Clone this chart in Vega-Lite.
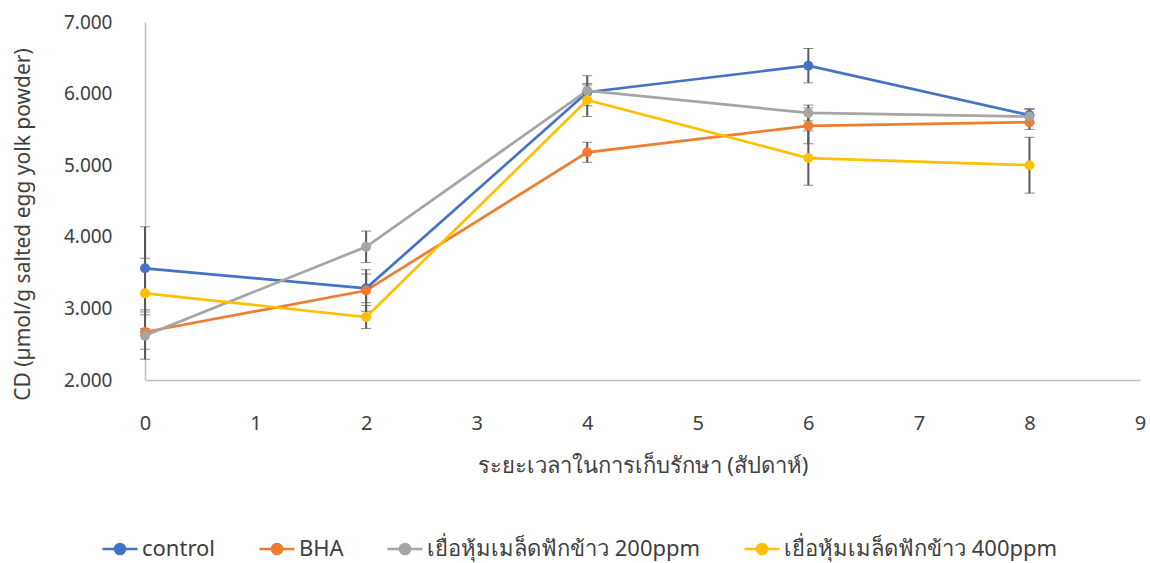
{
  "$schema": "https://vega.github.io/schema/vega-lite/v6.json",
  "width": 995,
  "height": 358,
  "autosize": "none",
  "padding": {"left": 145, "top": 22, "right": 10, "bottom": 183},
  "config": {
    "view": {"stroke": null},
    "font": "Noto Sans",
    "axis": {"labelColor": "#404040", "titleColor": "#404040", "titleFontWeight": "normal"},
    "legend": {"labelColor": "#404040"}
  },
  "data": {
    "values": [
      {"week": 0, "series": "control", "cd": 3.56, "err": 0.58},
      {"week": 2, "series": "control", "cd": 3.28, "err": 0.2},
      {"week": 4, "series": "control", "cd": 6.02, "err": 0.1},
      {"week": 6, "series": "control", "cd": 6.39, "err": 0.24},
      {"week": 8, "series": "control", "cd": 5.7, "err": 0.09},
      {"week": 0, "series": "BHA", "cd": 2.67, "err": 0.24},
      {"week": 2, "series": "BHA", "cd": 3.25, "err": 0.29},
      {"week": 4, "series": "BHA", "cd": 5.18, "err": 0.14},
      {"week": 6, "series": "BHA", "cd": 5.55, "err": 0.25},
      {"week": 8, "series": "BHA", "cd": 5.6, "err": 0.1},
      {"week": 0, "series": "เยื่อหุ้มเมล็ดฟักข้าว 200ppm", "cd": 2.62, "err": 0.33},
      {"week": 2, "series": "เยื่อหุ้มเมล็ดฟักข้าว 200ppm", "cd": 3.86, "err": 0.22},
      {"week": 4, "series": "เยื่อหุ้มเมล็ดฟักข้าว 200ppm", "cd": 6.04, "err": 0.21},
      {"week": 6, "series": "เยื่อหุ้มเมล็ดฟักข้าว 200ppm", "cd": 5.73, "err": 0.11},
      {"week": 8, "series": "เยื่อหุ้มเมล็ดฟักข้าว 200ppm", "cd": 5.68, "err": 0.1},
      {"week": 0, "series": "เยื่อหุ้มเมล็ดฟักข้าว 400ppm", "cd": 3.21, "err": 0.49},
      {"week": 2, "series": "เยื่อหุ้มเมล็ดฟักข้าว 400ppm", "cd": 2.88, "err": 0.16},
      {"week": 4, "series": "เยื่อหุ้มเมล็ดฟักข้าว 400ppm", "cd": 5.91, "err": 0.23},
      {"week": 6, "series": "เยื่อหุ้มเมล็ดฟักข้าว 400ppm", "cd": 5.1, "err": 0.38},
      {"week": 8, "series": "เยื่อหุ้มเมล็ดฟักข้าว 400ppm", "cd": 5.0, "err": 0.39}
    ]
  },
  "layer": [
    {
      "mark": {"type": "errorbar", "ticks": {"size": 10, "color": "#595959", "strokeWidth": 2}, "rule": {"color": "#595959", "strokeWidth": 2}},
      "encoding": {
        "x": {"field": "week", "type": "quantitative", "title": "ระยะเวลาในการเก็บรักษา (สัปดาห์)"},
        "y": {"field": "cd", "type": "quantitative", "title": "CD (µmol/g salted egg yolk powder)"},
        "yError": {"field": "err"}
      }
    },
    {
      "mark": {"type": "line", "strokeWidth": 2.7},
      "encoding": {
        "x": {
          "field": "week", "type": "quantitative",
          "title": "ระยะเวลาในการเก็บรักษา (สัปดาห์)",
          "scale": {"domain": [0, 9], "nice": false},
          "axis": {
            "values": [0, 1, 2, 3, 4, 5, 6, 7, 8, 9],
            "format": "d",
            "grid": false, "ticks": false, "labelFlush": false,
            "domainColor": "#BFBFBF", "domainWidth": 1.5,
            "labelPadding": 33, "labelFontSize": 20,
            "titleFontSize": 22, "titlePadding": 22
          }
        },
        "y": {
          "field": "cd", "type": "quantitative",
          "title": "CD (µmol/g salted egg yolk powder)",
          "scale": {"domain": [2, 7], "nice": false, "zero": false},
          "axis": {
            "values": [2, 3, 4, 5, 6, 7],
            "format": ".3f",
            "grid": false, "ticks": false, "labelFlush": false,
            "domainColor": "#BFBFBF", "domainWidth": 1.5,
            "labelPadding": 33, "labelFontSize": 19,
            "titleFontSize": 21, "titleAngle": 270,
            "titleAlign": "center", "titleBaseline": "middle",
            "titleX": -122, "titleY": 202
          }
        },
        "color": {
          "field": "series", "type": "nominal",
          "sort": ["control", "BHA", "เยื่อหุ้มเมล็ดฟักข้าว 200ppm", "เยื่อหุ้มเมล็ดฟักข้าว 400ppm"],
          "scale": {
            "domain": ["control", "BHA", "เยื่อหุ้มเมล็ดฟักข้าว 200ppm", "เยื่อหุ้มเมล็ดฟักข้าว 400ppm"],
            "range": ["#4472C4", "#ED7D31", "#A5A5A5", "#FFC000"]
          },
          "legend": {
            "orient": "none", "direction": "horizontal", "columns": 4,
            "legendX": -44, "legendY": 508, "title": null,
            "columnPadding": 38, "labelLimit": 0,
            "symbolType": "M-1,0L1,0M0.29,0A0.29,0.29,0,1,1,-0.29,0A0.29,0.29,0,1,1,0.29,0",
            "symbolSize": 1225, "symbolStrokeWidth": 2.5,
            "labelFontSize": 22, "labelOffset": 3
          }
        },
        "order": {"field": "week", "type": "quantitative"}
      }
    },
    {
      "mark": {"type": "point", "filled": true, "size": 100, "opacity": 1},
      "encoding": {
        "x": {"field": "week", "type": "quantitative"},
        "y": {"field": "cd", "type": "quantitative"},
        "color": {"field": "series", "type": "nominal"}
      }
    }
  ]
}
